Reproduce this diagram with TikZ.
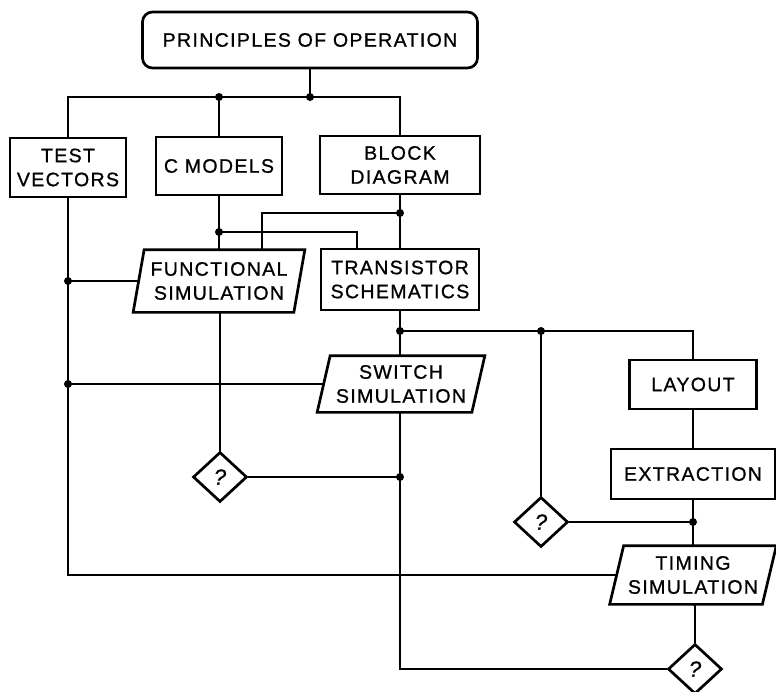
\documentclass[tikz,border=0pt]{standalone}
\usepackage{fontspec}
\setmainfont{Liberation Sans}[LetterSpace=7,FakeBold=0.9]
\usetikzlibrary{shapes.geometric}
\newcommand\paraout[2]{\draw ([xshift=#2]#1.north west) -- ([xshift=#2]#1.north east) -- ([xshift=-#2]#1.south east) -- ([xshift=-#2]#1.south west) -- cycle;}
\begin{document}
\begin{tikzpicture}[x=1pt,y=-1pt,line width=2.7pt,
  lbl/.style={font=\fontsize{19.5}{24}\selectfont, align=center, inner sep=0pt},
  box/.style={lbl, draw, rectangle},
  para/.style={lbl, rectangle},
  dec/.style={draw, diamond, inner sep=0pt, minimum width=54pt, minimum height=50pt, font=\fontsize{22}{22}\selectfont\itshape},
  dot/.style={circle, fill, inner sep=0pt, minimum size=8pt}]
\useasboundingbox (0,0) rectangle (776,691);
% nodes
\node[box, rounded corners=10pt, minimum width=335pt, minimum height=56pt] (poo) at (310,40) {PRINCIPLES OF OPERATION};
\node[box, minimum width=116pt, minimum height=59pt] (tv) at (68,167.5) {TEST\\VECTORS};
\node[box, minimum width=126pt, minimum height=58pt] (cm) at (219,166) {C MODELS};
\node[box, minimum width=160pt, minimum height=58pt] (bd) at (400,165) {BLOCK\\DIAGRAM};
\node[para, minimum width=158pt, minimum height=60pt] (fs) at (219,281) {FUNCTIONAL\\SIMULATION};
\node[box, minimum width=158pt, minimum height=61pt] (ts) at (400,279.5) {TRANSISTOR\\SCHEMATICS};
\node[para, minimum width=152pt, minimum height=54pt] (ss) at (401,384) {SWITCH\\SIMULATION};
\node[box, minimum width=127pt, minimum height=49pt] (lay) at (693,384.5) {LAYOUT};
\node[box, minimum width=164pt, minimum height=50pt] (ext) at (693,474) {EXTRACTION};
\node[para, minimum width=150pt, minimum height=56pt] (tim) at (693,575) {TIMING\\SIMULATION};
\node[dec] (q1) at (220,477) {?};
\node[dec] (q2) at (541,522) {?};
\node[dec] (q3) at (695,669) {?};
\paraout{fs}{5.5pt}
\paraout{ss}{6.5pt}
\paraout{tim}{7pt}
% coordinates
\coordinate (bus) at (310,97);
\coordinate (j1) at (219,232);
\coordinate (j2) at (400,213);
\coordinate (j3) at (400,331);
% connectors
\draw (poo.south) -- (bus);
\draw (tv.north) |- (bus) -| (bd.north);
\draw (cm.north) -- (cm.north |- bus);
\draw (cm.south) -- (fs.north);
\draw (j1) -| ([xshift=-43pt]ts.north);
\draw (j2) -| ([xshift=43pt]fs.north);
\draw (bd.south) -- (ts.north);
\draw (ts.south) -- (ts.south |- ss.north);
\draw (j3) -| (lay.north);
\draw (q2.north |- j3) -- (q2.north);
\draw (lay.south) -- (ext.north);
\draw (ext.south) -- (tim.north);
\draw (tim.south) -| (q3.north);
\draw (q2.east) -- (q2.east -| ext.south);
\draw (ts.south |- ss.south) |- (q3.west);
\draw (q1.east) -- (q1.east -| ts.south);
\draw (fs.south -| q1.north) -- (q1.north);
\draw (tv.south) |- (tim.west);
\draw (tv.south |- fs.west) -- (fs.west);
\draw (tv.south |- ss.west) -- (ss.west);
% junction dots
\node[dot] at (bus) {};
\node[dot] at (cm.north |- bus) {};
\node[dot] at (j1) {};
\node[dot] at (j2) {};
\node[dot] at (j3) {};
\node[dot] at (q2.north |- j3) {};
\node[dot] at (q2.east -| ext.south) {};
\node[dot] at (q1.east -| ts.south) {};
\node[dot] at (tv.south |- fs.west) {};
\node[dot] at (tv.south |- ss.west) {};
\end{tikzpicture}
\end{document}
